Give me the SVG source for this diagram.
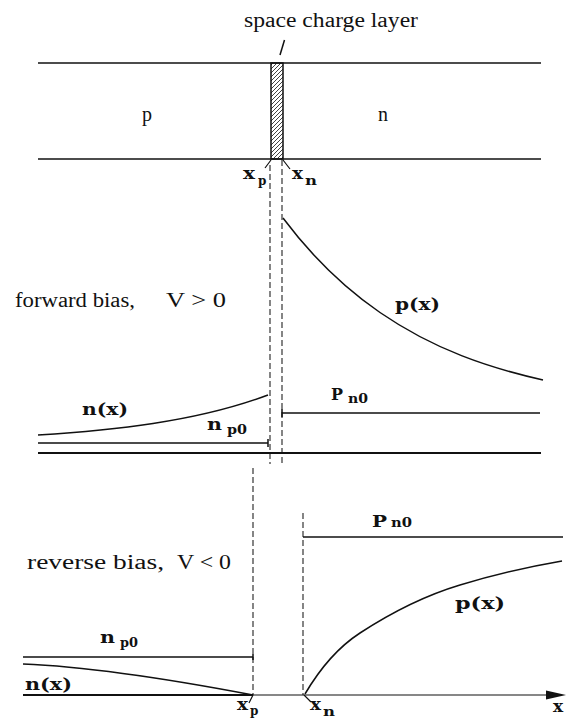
<svg xmlns="http://www.w3.org/2000/svg" width="566" height="720" viewBox="0 0 566 720">
  <style>
    .ln { stroke: #111; stroke-width: 1.5; fill: none; }
    .thick { stroke: #111; stroke-width: 2; fill: none; }
    .thin { stroke: #111; stroke-width: 1.2; fill: none; }
    .dash { stroke: #222; stroke-width: 1.1; fill: none; stroke-dasharray: 6 3; }
    .txt { font-family: "Liberation Serif", "Times New Roman", serif; font-size: 20px; fill: #111; }
    .math { font-family: "DejaVu Serif", "Liberation Serif", serif; font-weight: bold; font-size: 17px; fill: #111; }
    .sub { font-family: "DejaVu Serif", "Liberation Serif", serif; font-weight: bold; font-size: 12px; fill: #111; }
  </style>
  <defs>
    <pattern id="hatch" patternUnits="userSpaceOnUse" width="4" height="4">
      <path d="M-1,1 L1,-1 M0,4 L4,0 M3,5 L5,3" stroke="#111" stroke-width="0.8"/>
    </pattern>
  </defs>
  <rect width="566" height="720" fill="#fff"/>

  <g id="junction">
    <text class="txt" x="244" y="27" font-size="18" textLength="174" lengthAdjust="spacingAndGlyphs">space charge layer</text>
    <path class="ln" d="M284.5,40 L280,55" stroke-width="1.8"/>
    <line class="ln" x1="38" y1="63" x2="541" y2="63"/>
    <line class="ln" x1="38" y1="159" x2="541" y2="159"/>
    <rect x="271" y="63" width="12" height="96" fill="url(#hatch)" stroke="#111" stroke-width="1.5"/>
    <text class="txt" x="147" y="121" text-anchor="middle" font-size="21">p</text>
    <text class="txt" x="383" y="121" text-anchor="middle" font-size="21">n</text>
    <path class="thin" d="M271,160 L265,168 M283,160 L290,169"/>
    <text class="math" x="243" y="179" textLength="12" lengthAdjust="spacingAndGlyphs">x</text>
    <text class="sub" x="258" y="185">p</text>
    <text class="math" x="292" y="179" textLength="11" lengthAdjust="spacingAndGlyphs">x</text>
    <text class="sub" x="305" y="185" textLength="12" lengthAdjust="spacingAndGlyphs">n</text>
  </g>

  <g id="forward-bias">
    <line class="dash" x1="270" y1="165" x2="270" y2="464"/>
    <line class="dash" x1="282" y1="160" x2="282" y2="464"/>
    <text class="txt" x="15" y="307" font-size="21" textLength="120" lengthAdjust="spacingAndGlyphs">forward bias,</text>
    <text class="txt" x="166" y="307" font-size="21" textLength="60" lengthAdjust="spacingAndGlyphs">V &gt; 0</text>
    <path class="ln" d="M283,218 C315.3,261.1 347.7,290.3 380,312.5 C434.3,349.8 488.7,367.75 543,380"/>
    <text class="math" x="395" y="310" textLength="45" lengthAdjust="spacingAndGlyphs">p(x)</text>
    <path class="ln" d="M38,435 C76.3,432.6 114.7,429.35 153,423.5 C191.3,417.65 229.7,409.4 268,395"/>
    <text class="math" x="82" y="415" textLength="46" lengthAdjust="spacingAndGlyphs">n(x)</text>
    <path class="ln" d="M38,443 L268,443 M268,439 L268,447"/>
    <text class="math" x="207" y="430" textLength="15" lengthAdjust="spacingAndGlyphs">n</text>
    <text class="sub" x="227" y="434" textLength="20" lengthAdjust="spacingAndGlyphs">p0</text>
    <path class="ln" d="M282,413 L540,413 M282,409 L282,417"/>
    <text class="math" x="331" y="400" font-size="19" textLength="12" lengthAdjust="spacingAndGlyphs">P</text>
    <text class="sub" x="348" y="403" textLength="20" lengthAdjust="spacingAndGlyphs">n0</text>
    <line class="thick" x1="38" y1="453" x2="541" y2="453"/>
  </g>

  <g id="reverse-bias">
    <line class="dash" x1="253" y1="468" x2="253" y2="695"/>
    <line class="dash" x1="303" y1="513" x2="303" y2="695"/>
    <text class="txt" x="27" y="569" font-size="21" textLength="137" lengthAdjust="spacingAndGlyphs">reverse bias,</text>
    <text class="txt" x="177" y="569" font-size="21" textLength="54" lengthAdjust="spacingAndGlyphs">V &lt; 0</text>
    <path class="ln" d="M303,537 L563,537"/>
    <text class="math" x="372" y="527" font-size="19" textLength="15" lengthAdjust="spacingAndGlyphs">P</text>
    <text class="sub" x="391" y="527" textLength="21" lengthAdjust="spacingAndGlyphs">n0</text>
    <path class="ln" d="M305,694 C323.3,662.9 341.7,644.9 360,633 C393.3,611.3 426.7,595 460,585 C494,574.8 528,566.8 562,561"/>
    <text class="math" x="455" y="609" textLength="50" lengthAdjust="spacingAndGlyphs">p(x)</text>
    <path class="ln" d="M23,657 L253,657 M253,654 L253,660"/>
    <text class="math" x="100" y="643" textLength="15" lengthAdjust="spacingAndGlyphs">n</text>
    <text class="sub" x="120" y="647" textLength="18" lengthAdjust="spacingAndGlyphs">p0</text>
    <path class="ln" d="M23,664 C100,667 190,683 253,695"/>
    <text class="math" x="25" y="690" textLength="47" lengthAdjust="spacingAndGlyphs">n(x)</text>
    <line class="thick" x1="23" y1="695" x2="253" y2="695" stroke-width="2.2"/>
    <line class="thin" x1="253" y1="695" x2="548" y2="695"/>
    <polygon points="566,695 546,690.5 546,699.5" fill="#111"/>
    <path class="thin" d="M253,695 L249,703 M304,695 L311,702"/>
    <text class="math" x="237" y="710" textLength="11" lengthAdjust="spacingAndGlyphs">x</text>
    <text class="sub" x="250" y="715">p</text>
    <text class="math" x="310" y="710" textLength="11" lengthAdjust="spacingAndGlyphs">x</text>
    <text class="sub" x="323" y="716" textLength="12" lengthAdjust="spacingAndGlyphs">n</text>
    <text class="math" x="553" y="712" font-size="16">x</text>
  </g>
</svg>
